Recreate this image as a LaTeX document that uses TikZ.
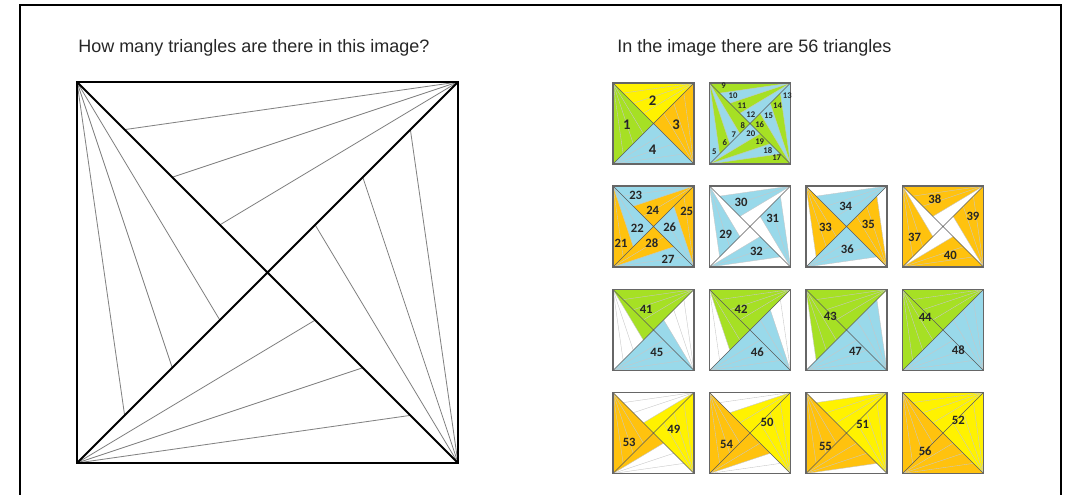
\documentclass[tikz,border=0pt]{standalone}
\usepackage{fontspec}
\setmainfont{Liberation Sans}
\newfontfamily\numfont{Carlito}
\usetikzlibrary{calc}
\definecolor{tgreen}{RGB}{166,224,36}
\definecolor{tyellow}{RGB}{255,242,0}
\definecolor{torange}{RGB}{255,194,14}
\definecolor{tblue}{RGB}{153,217,234}

% corner, centre and diagonal points of a unit square
\newcommand{\pinpoints}{%
  \coordinate (TL) at (0,1); \coordinate (TR) at (1,1);
  \coordinate (BL) at (0,0); \coordinate (BR) at (1,0);
  \coordinate (O) at (0.5,0.5);
  \foreach \k in {1,...,7}{
    \coordinate (P\k) at (\k/8,1-\k/8);
    \coordinate (Q\k) at (\k/8,\k/8);
  }%
}
\newcommand{\pinlines}[1]{%
  \foreach \k in {1,2,3}{\draw[#1] (TL) -- (Q\k); \draw[#1] (TR) -- (P\k);}
  \foreach \k in {5,6,7}{\draw[#1] (BR) -- (Q\k); \draw[#1] (BL) -- (P\k);}
}
\newcommand{\smallgrid}{%
  \pinlines{smallfan}
  \draw[smalldiag] (TL) -- (BR) (BL) -- (TR);
  \draw[smallbox] (BL) rectangle (TR);
}
\newcommand{\tri}[4]{\fill[#1] (#2) -- (#3) -- (#4) -- cycle;}

\begin{document}
\begin{tikzpicture}[x=0.75pt,y=-0.75pt,
    bigfan/.style={black!50,line width=0.6pt},
    bigdiag/.style={black,line width=1.5pt},
    bigbox/.style={black,line width=1.6pt},
    smallfan/.style={black!22,line width=0.3pt},
    smalldiag/.style={black!65,line width=0.45pt},
    smallbox/.style={black!60,line width=0.9pt},
    lbl/.style={font={\numfont\bfseries\fontsize{9.5}{10}\selectfont},text=black!85,inner sep=0pt},
    lblbig/.style={lbl,font={\numfont\bfseries\fontsize{11}{12}\selectfont}},
    lbltiny/.style={lbl,font={\numfont\bfseries\fontsize{6.5}{7}\selectfont}},
    question/.style={font=\fontsize{13.5}{15}\selectfont,text=black!85,anchor=base west,inner sep=0pt}]
  \useasboundingbox (0,0) rectangle (1081,495);
  \draw[line width=2.2pt] (20,497) -- (20,5) -- (1061,5) -- (1061,497);

  \node[question] (ask) at (78,53) {How many triangles are there in this image?};
  \node[question] (answer) at (617,53) {In the image there are 56 triangles};

  % the puzzle
  \begin{scope}[shift={(77,463)},x=285.75pt,y=285.75pt]
    \pinpoints
    \pinlines{bigfan}
    \draw[bigdiag] (TL) -- (BR) (BL) -- (TR);
    \draw[bigbox] (BL) rectangle (TR);
  \end{scope}

  % 1-4
  \begin{scope}[shift={(613,164)},x=60.75pt,y=60.75pt]
    \pinpoints
    \tri{tgreen}{TL}{BL}{O} \tri{tyellow}{TL}{TR}{O}
    \tri{torange}{TR}{BR}{O} \tri{tblue}{BL}{BR}{O}
    \smallgrid
    \foreach \u/\v/\n in {0.17/0.48/1,0.49/0.78/2,0.78/0.49/3,0.49/0.17/4}
      \node[lblbig] (t\n) at (\u,\v) {\n};
  \end{scope}

  % 5-20
  \begin{scope}[shift={(709.5,164)},x=60.75pt,y=60.75pt]
    \pinpoints
    \fill[tblue] (BL) rectangle (TR);
    \tri{tgreen}{TL}{Q1}{Q2} \tri{tgreen}{TL}{Q3}{O}
    \tri{tgreen}{TR}{TL}{P1} \tri{tgreen}{TR}{P2}{P3}
    \tri{tgreen}{BR}{Q7}{Q6} \tri{tgreen}{BR}{Q5}{O}
    \tri{tgreen}{BL}{BR}{P7} \tri{tgreen}{BL}{P6}{P5}
    \smallgrid
    \foreach \u/\v/\n in {0.06/0.15/5,0.19/0.27/6,0.30/0.36/7,0.41/0.47/8,
        0.175/0.965/9,0.29/0.84/10,0.40/0.72/11,0.51/0.61/12,
        0.96/0.84/13,0.84/0.72/14,0.73/0.60/15,0.62/0.49/16,
        0.83/0.08/17,0.72/0.17/18,0.62/0.28/19,0.51/0.37/20}
      \node[lbltiny] (t\n) at (\u,\v) {\n};
  \end{scope}

  % 21-28
  \begin{scope}[shift={(613,267)},x=60.75pt,y=60.75pt]
    \pinpoints
    \fill[tblue] (BL) rectangle (TR);
    \tri{torange}{TL}{BL}{Q2} \tri{torange}{TR}{P2}{O}
    \tri{torange}{BR}{TR}{Q6} \tri{torange}{BL}{P6}{O}
    \smallgrid
    \foreach \u/\v/\n in {0.10/0.29/21,0.30/0.48/22,0.28/0.89/23,0.49/0.70/24,
        0.91/0.69/25,0.70/0.49/26,0.68/0.10/27,0.48/0.29/28}
      \node[lbl] (t\n) at (\u,\v) {\n};
  \end{scope}

  % 29-32
  \begin{scope}[shift={(709.5,267)},x=60.75pt,y=60.75pt]
    \pinpoints
    \tri{tblue}{TL}{Q1}{Q3} \tri{tblue}{TR}{P1}{P3}
    \tri{tblue}{BR}{Q7}{Q5} \tri{tblue}{BL}{P7}{P5}
    \smallgrid
    \foreach \u/\v/\n in {0.20/0.40/29,0.39/0.80/30,0.78/0.60/31,0.58/0.19/32}
      \node[lbl] (t\n) at (\u,\v) {\n};
  \end{scope}

  % 33-36
  \begin{scope}[shift={(806,267)},x=60.75pt,y=60.75pt]
    \pinpoints
    \tri{torange}{TL}{Q1}{O} \tri{torange}{BR}{Q7}{O}
    \tri{tblue}{TR}{P1}{O} \tri{tblue}{BL}{P7}{O}
    \smallgrid
    \foreach \u/\v/\n in {0.24/0.49/33,0.49/0.75/34,0.77/0.52/35,0.51/0.22/36}
      \node[lbl] (t\n) at (\u,\v) {\n};
  \end{scope}

  % 37-40
  \begin{scope}[shift={(902.5,267)},x=60.75pt,y=60.75pt]
    \pinpoints
    \tri{torange}{TL}{BL}{Q3} \tri{torange}{TR}{TL}{P3}
    \tri{torange}{BR}{TR}{Q5} \tri{torange}{BL}{BR}{P5}
    \smallgrid
    \foreach \u/\v/\n in {0.15/0.37/37,0.40/0.84/38,0.87/0.62/39,0.59/0.14/40}
      \node[lbl] (t\n) at (\u,\v) {\n};
  \end{scope}

  % 41-48
  \foreach \cx/\gp/\bp/\ga/\gb/\gn/\ba/\bb/\bn in {613/Q3/Q5/0.41/0.75/41/0.54/0.22/45,
      709.5/Q2/Q6/0.39/0.75/42/0.59/0.23/46,806/Q1/Q7/0.30/0.67/43/0.61/0.24/47,
      902.5/BL/TR/0.28/0.66/44/0.69/0.25/48}{
    \begin{scope}[shift={(\cx,370.5)},x=60.75pt,y=60.75pt]
      \pinpoints
      \tri{tgreen}{TL}{TR}{\gp} \tri{tblue}{BL}{BR}{\bp}
      \smallgrid
      \node[lbl] (t\gn) at (\ga,\gb) {\gn};
      \node[lbl] (t\bn) at (\ba,\bb) {\bn};
    \end{scope}
  }

  % 49-56
  \foreach \cx/\op/\yp/\oa/\ob/\on/\ya/\yb/\yn in {613/P5/P3/0.20/0.39/53/0.75/0.54/49,
      709.5/P6/P2/0.21/0.36/54/0.71/0.63/50,806/P7/P1/0.24/0.33/55/0.70/0.61/51,
      902.5/BR/TL/0.28/0.28/56/0.69/0.66/52}{
    \begin{scope}[shift={(\cx,473.5)},x=60.75pt,y=60.75pt]
      \pinpoints
      \tri{torange}{TL}{BL}{\op} \tri{tyellow}{TR}{BR}{\yp}
      \smallgrid
      \node[lbl] (t\on) at (\oa,\ob) {\on};
      \node[lbl] (t\yn) at (\ya,\yb) {\yn};
    \end{scope}
  }
\end{tikzpicture}
\end{document}
